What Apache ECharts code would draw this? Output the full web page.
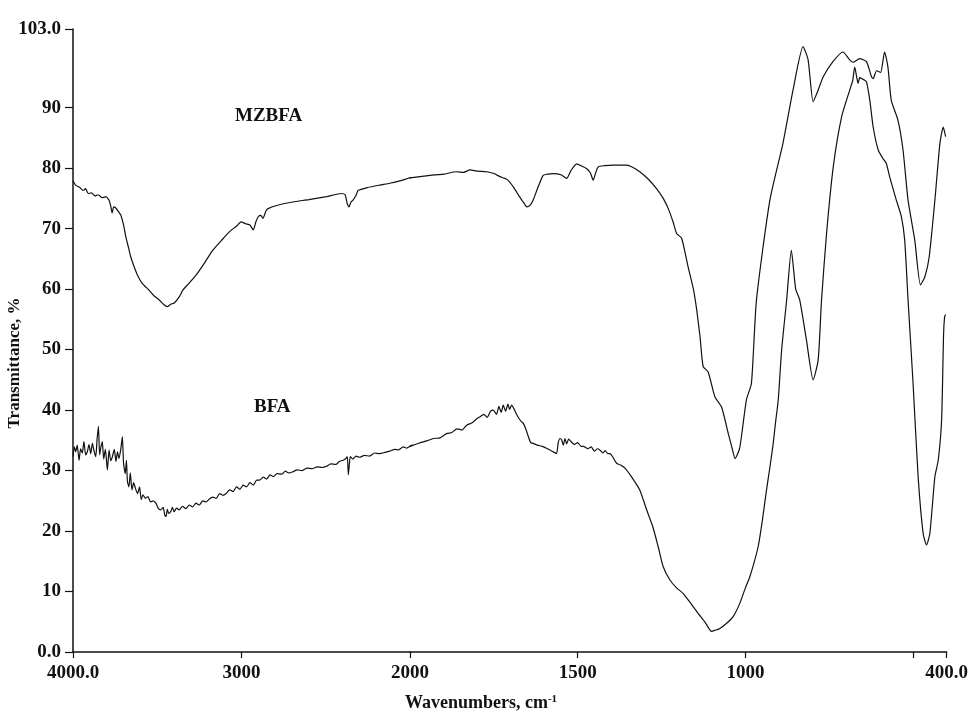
<!DOCTYPE html>
<html>
<head>
<meta charset="utf-8">
<script src="https://cdn.jsdelivr.net/npm/echarts@6/dist/echarts.min.js"></script>
<style>
  html, body { margin: 0; padding: 0; background: #fff; }
  #chart { width: 971px; height: 713px; }
</style>
</head>
<body>
<div id="chart"></div>
<script>
// FTIR spectra: wavenumber (cm-1) and transmittance (%)
const mzbfaWavenumbers = [
  4000, 3985, 3960, 3940, 3925, 3910, 3890, 3870, 3850, 3827, 3805, 3786, 3775, 3768, 3758, 3746,
  3730, 3716, 3700, 3686, 3670, 3657, 3640, 3617, 3590, 3548, 3520, 3488, 3460, 3440, 3420, 3399,
  3370, 3349, 3310, 3270, 3220, 3171, 3120, 3071, 3030, 3002, 2975, 2950, 2930, 2915, 2900, 2885,
  2873, 2855, 2843, 2780, 2695, 2600, 2496, 2407, 2385, 2373, 2362, 2350, 2338, 2320, 2308, 2250,
  2179, 2120, 2060, 2000, 1940, 1900, 1861, 1840, 1821, 1800, 1771, 1750, 1732, 1710, 1692, 1675,
  1660, 1652, 1643, 1633, 1620, 1603, 1590, 1573, 1550, 1533, 1520, 1503, 1490, 1473, 1462, 1454,
  1446, 1439, 1420, 1394, 1354, 1335, 1315, 1290, 1265, 1245, 1230, 1215, 1205, 1190, 1171, 1155,
  1145, 1135, 1126, 1111, 1091, 1071, 1051, 1040, 1031, 1017, 997, 982, 967, 927, 888, 858,
  828, 813, 798, 783, 768, 739, 709, 689, 679, 659, 639, 624, 619, 609, 597, 585,
  575, 565, 545, 530, 515, 495, 478, 465, 452, 435, 420, 410, 403
];
const mzbfaTransmittance = [
  77.9, 77.2, 76.8, 76.3, 76.6, 75.8, 75.9, 75.4, 75.6, 75.1, 75.3, 74.7, 73.6, 72.6, 73.6, 73.4,
  72.8, 72.2, 70.6, 68.6, 66.8, 65.3, 63.9, 62.3, 61.0, 59.8, 58.9, 58.2, 57.4, 57.1, 57.5, 57.7,
  58.7, 59.8, 61.0, 62.3, 64.3, 66.4, 68.0, 69.5, 70.4, 71.1, 70.8, 70.6, 69.8, 71.1, 72.0, 72.2,
  71.7, 72.9, 73.3, 73.9, 74.4, 74.8, 75.3, 75.8, 75.6, 74.2, 73.6, 74.4, 74.7, 75.5, 76.3, 76.8,
  77.2, 77.5, 77.9, 78.4, 78.8, 79.0, 79.4, 79.3, 79.7, 79.5, 79.4, 79.1, 78.6, 78.1, 76.9, 75.4,
  74.2, 73.6, 73.8, 74.7, 76.6, 78.8, 79.0, 79.1, 78.9, 78.3, 79.6, 80.7, 80.4, 79.9, 79.2, 78.0,
  79.3, 80.2, 80.4, 80.5, 80.5, 80.1, 79.4, 78.2, 76.6, 75.0, 73.3, 71.0, 69.2, 68.4, 63.7, 60.0,
  56.5, 52.0, 47.2, 46.3, 42.2, 40.5, 36.1, 33.8, 32.0, 33.7, 41.7, 44.4, 58.2, 74.7, 84.1, 92.9,
  100.1, 97.9, 91.0, 92.9, 95.1, 97.6, 99.2, 97.9, 97.5, 98.1, 97.6, 95.1, 94.8, 96.1, 95.8, 99.2,
  96.7, 91.2, 87.9, 83.0, 74.7, 68.1, 60.7, 62.0, 65.3, 74.7, 84.1, 86.8, 85.2
];

const bfaWavenumbers = [
  4000, 3992, 3984, 3975, 3964, 3955, 3945, 3935, 3925, 3915, 3905, 3895, 3885, 3875, 3865, 3857,
  3849, 3842, 3835, 3826, 3818, 3808, 3796, 3786, 3776, 3766, 3755, 3745, 3736, 3727, 3715, 3707,
  3700, 3690, 3683, 3677, 3668, 3660, 3650, 3640, 3630, 3617, 3605, 3595, 3585, 3570, 3555, 3540,
  3525, 3508, 3495, 3480, 3465, 3455, 3448, 3440, 3432, 3420, 3410, 3400, 3385, 3370, 3350, 3330,
  3310, 3290, 3270, 3250, 3230, 3210, 3191, 3170, 3150, 3130, 3110, 3091, 3070, 3050, 3030, 3010,
  2990, 2970, 2950, 2930, 2910, 2893, 2870, 2850, 2830, 2810, 2790, 2760, 2740, 2720, 2695, 2670,
  2640, 2610, 2580, 2550, 2520, 2496, 2470, 2440, 2420, 2397, 2380, 2372, 2366, 2360, 2354, 2340,
  2320, 2300, 2270, 2240, 2210, 2179, 2150, 2120, 2090, 2070, 2040, 2020, 1990, 1970, 1950, 1930,
  1910, 1891, 1875, 1860, 1845, 1831, 1815, 1800, 1791, 1780, 1770, 1760, 1752, 1742, 1735, 1728,
  1722, 1715, 1708, 1703, 1697, 1690, 1683, 1675, 1668, 1662, 1655, 1647, 1640, 1633, 1620, 1605,
  1593, 1580, 1570, 1563, 1558, 1553, 1548, 1543, 1538, 1533, 1527, 1520, 1510, 1500, 1490, 1483,
  1470, 1460, 1450, 1442, 1434, 1425, 1418, 1410, 1404, 1395, 1384, 1372, 1359, 1340, 1315, 1295,
  1276, 1260, 1245, 1225, 1205, 1186, 1165, 1141, 1120, 1101, 1090, 1076, 1055, 1037, 1017, 1000,
  987, 975, 962, 950, 937, 927, 917, 910, 902, 892, 877, 863, 850, 838, 818, 798,
  783, 773, 758, 738, 713, 689, 680, 674, 668, 664, 659, 654, 646, 639, 629, 619,
  604, 590, 580, 570, 550, 535, 525, 515, 500, 485, 470, 460, 450, 435, 425, 415,
  409, 406, 403
];
const bfaTransmittance = [
  32.3, 33.9, 33.1, 34.2, 31.7, 33.6, 32.9, 34.8, 32.6, 33.1, 34.3, 32.8, 34.5, 33.2, 32.3, 35.2,
  37.3, 32.6, 33.8, 34.8, 31.9, 33.5, 30.1, 33.4, 31.6, 32.3, 33.5, 31.5, 33.1, 32.0, 33.8, 35.6,
  31.2, 29.5, 31.7, 28.2, 27.3, 29.6, 26.8, 28.0, 27.1, 26.2, 27.3, 25.2, 26.0, 25.4, 25.7, 24.8,
  25.0, 24.6, 23.8, 23.5, 23.9, 22.6, 22.4, 23.6, 22.9, 23.2, 23.9, 23.2, 23.8, 23.5, 24.1, 23.7,
  24.3, 24.0, 24.6, 24.3, 25.0, 24.8, 25.3, 25.6, 25.4, 26.2, 25.9, 26.2, 26.8, 26.5, 27.3, 26.9,
  27.6, 27.3, 28.0, 27.6, 28.4, 28.4, 28.9, 28.6, 29.3, 29.0, 29.5, 29.4, 29.9, 29.6, 29.8, 30.1,
  30.0, 30.4, 30.3, 30.6, 30.5, 30.7, 31.1, 31.0, 31.5, 31.7, 32.0, 32.3, 29.3, 31.0, 32.3, 31.9,
  32.4, 32.2, 32.5, 32.4, 32.9, 32.8, 33.0, 33.2, 33.5, 33.4, 33.9, 33.7, 34.2, 34.6, 34.9, 35.3,
  35.4, 36.1, 36.3, 36.9, 36.7, 37.5, 37.9, 38.6, 38.9, 39.3, 38.8, 39.8, 40.0, 39.3, 40.6, 39.6,
  40.8, 39.8, 41.0, 40.1, 40.8, 40.2, 39.4, 38.6, 38.1, 37.8, 36.9, 35.6, 34.6, 34.5, 34.2, 34.0,
  33.7, 33.3, 33.0, 32.8, 34.6, 35.3, 35.1, 34.2, 35.3, 34.4, 35.2, 34.8, 34.3, 34.6, 34.0, 34.0,
  33.6, 33.9, 33.2, 33.6, 33.4, 32.9, 33.3, 32.8, 32.8, 32.2, 31.2, 30.9, 30.4, 29.0, 26.8, 23.6,
  20.7, 17.4, 14.1, 11.9, 10.6, 9.7, 8.2, 6.4, 4.9, 3.4, 3.6, 3.9, 4.8, 5.8, 8.0, 10.6,
  12.4, 14.6, 17.4, 21.5, 26.8, 30.5, 34.5, 38.0, 41.7, 49.9, 58.2, 66.4, 60.0, 58.2, 51.6, 45.0,
  48.3, 58.2, 69.2, 80.2, 88.5, 92.9, 94.5, 96.7, 95.0, 94.0, 95.0, 94.8, 94.6, 94.3, 91.2, 86.8,
  83.0, 81.6, 80.8, 78.6, 74.7, 72.0, 68.1, 58.2, 44.4, 29.0, 19.6, 17.7, 19.6, 29.0, 31.7, 38.3,
  52.7, 55.4, 55.8
];

// Axis ticks and labels; the wavenumber axis changes scale at 2000 cm-1
const yTickValues = [0, 10, 20, 30, 40, 50, 60, 70, 80, 90, 103];
const xTicksHigh = [4000, 3000, 2000];
const xTicksLow = [1500, 1000, 500, 400];
const xLabelsLow = [1500, 1000, 400];
const endLabels = { 4000: '4000.0', 400: '400.0', 0: '0.0', 103: '103.0' };

const FONT = '"Liberation Serif", "Times New Roman", serif';
const INK = '#111';

function pairs(ws, vs) {
  return ws.map((w, i) => [w, vs[i]]);
}
function tickText(v) {
  return endLabels[v] !== undefined ? endLabels[v] : String(v);
}

const mzbfaData = pairs(mzbfaWavenumbers, mzbfaTransmittance);
const bfaData = pairs(bfaWavenumbers, bfaTransmittance);

const labelStyle = {
  fontFamily: FONT, fontWeight: 'bold', fontSize: 19, color: INK
};

function lineSeries(name, data, idx) {
  return {
    name: name,
    type: 'line',
    xAxisIndex: idx,
    yAxisIndex: idx,
    data: data,
    symbol: 'none',
    clip: true,
    smooth: 0.2,
    lineStyle: { color: INK, width: 1.2 },
    animation: false
  };
}

const chart = echarts.init(document.getElementById('chart'), null, { renderer: 'canvas' });

chart.setOption({
  backgroundColor: '#fff',
  animation: false,
  grid: [
    { left: 73, top: 29, width: 337, height: 623 },
    { left: 410, top: 29, width: 537, height: 623 }
  ],
  xAxis: [
    {
      type: 'value', gridIndex: 0, min: 2000, max: 4000, inverse: true,
      splitLine: { show: false },
      axisLine: { show: true, lineStyle: { color: INK, width: 1.5 } },
      axisTick: { show: true, length: 6, lineStyle: { color: INK, width: 1.2 }, customValues: xTicksHigh },
      axisLabel: Object.assign({ margin: 12, customValues: xTicksHigh, formatter: tickText }, labelStyle)
    },
    {
      type: 'value', gridIndex: 1, min: 400, max: 2000, inverse: true,
      splitLine: { show: false },
      axisLine: { show: true, lineStyle: { color: INK, width: 1.5 } },
      axisTick: { show: true, length: 6, lineStyle: { color: INK, width: 1.2 }, customValues: xTicksLow },
      axisLabel: Object.assign({ margin: 12, customValues: xLabelsLow, formatter: tickText }, labelStyle)
    }
  ],
  yAxis: [
    {
      type: 'value', gridIndex: 0, min: 0, max: 103,
      splitLine: { show: false },
      axisLine: { show: true, lineStyle: { color: INK, width: 1.5 } },
      axisTick: { show: true, length: 8, lineStyle: { color: INK, width: 1.2 }, customValues: yTickValues },
      axisLabel: Object.assign({
        margin: 12, customValues: yTickValues, formatter: tickText,
        padding: [0, 0, 10, 0]
      }, labelStyle)
    },
    {
      type: 'value', gridIndex: 1, min: 0, max: 103, show: false,
      splitLine: { show: false }
    }
  ],
  series: [
    lineSeries('MZBFA', mzbfaData, 0),
    lineSeries('MZBFA', mzbfaData, 1),
    lineSeries('BFA', bfaData, 0),
    lineSeries('BFA', bfaData, 1)
  ],
  graphic: [
    {
      type: 'text', left: 235, top: 107,
      style: { text: 'MZBFA', font: 'bold 19px ' + FONT, fill: INK }
    },
    {
      type: 'text', left: 254, top: 398,
      style: { text: 'BFA', font: 'bold 19px ' + FONT, fill: INK }
    },
    {
      type: 'text', x: 15, y: 363, rotation: Math.PI / 2,
      style: {
        text: 'Transmittance, %', font: 'bold 17px ' + FONT, fill: INK,
        align: 'center', verticalAlign: 'middle'
      }
    },
    {
      type: 'text', x: 481, y: 703,
      style: {
        text: '{t|Wavenumbers, cm}{s|-1}',
        align: 'center', verticalAlign: 'middle',
        rich: {
          t: { fontFamily: FONT, fontWeight: 'bold', fontSize: 18, fill: INK, color: INK },
          s: { fontFamily: FONT, fontWeight: 'bold', fontSize: 11, fill: INK, color: INK, verticalAlign: 'top', padding: [0, 0, 8, 0] }
        }
      }
    }
  ]
});
</script>
</body>
</html>
